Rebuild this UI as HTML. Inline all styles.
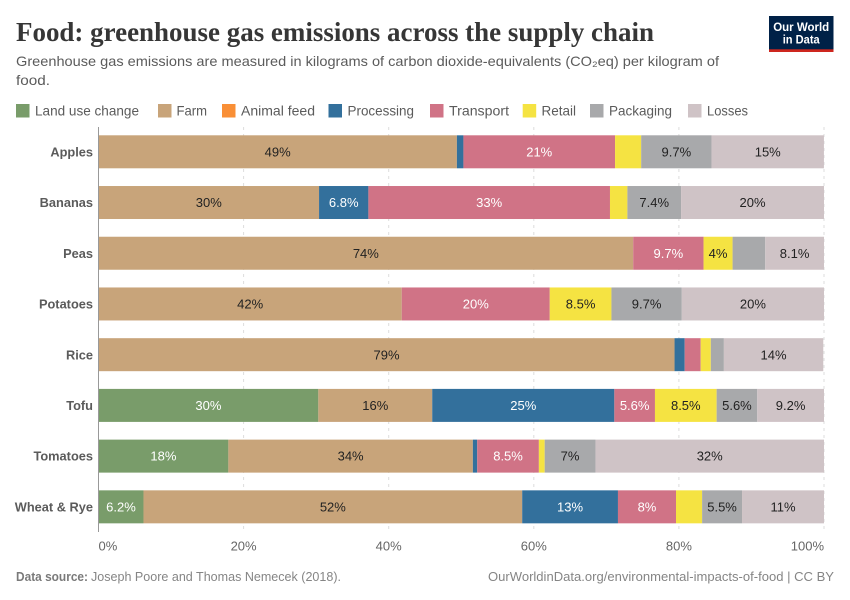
<!DOCTYPE html>
<html lang="en">
<head>
<meta charset="utf-8">
<title>Food: greenhouse gas emissions across the supply chain</title>
<style>
html,body{margin:0;padding:0;background:#fff;}
svg{display:block;font-family:"Liberation Sans",Arial,sans-serif;}
</style>
</head>
<body>
<svg id="chart" xmlns="http://www.w3.org/2000/svg" width="850" height="600" viewBox="0 0 850 600">
  <rect width="850" height="600" fill="#fff"/>
  <text x="16" y="41" font-family="'Liberation Serif',serif" font-weight="700" font-size="27" fill="#363636" textLength="638" lengthAdjust="spacingAndGlyphs">Food: greenhouse gas emissions across the supply chain</text>
  <text x="16" y="66" font-size="14" fill="#5b5b5b" textLength="703" lengthAdjust="spacingAndGlyphs">Greenhouse gas emissions are measured in kilograms of carbon dioxide-equivalents (CO₂eq) per kilogram of</text>
  <text x="16" y="85" font-size="14" fill="#5b5b5b" textLength="34" lengthAdjust="spacingAndGlyphs">food.</text>
  <g>
    <rect x="769" y="16" width="64.500" height="36" fill="#002147"/>
    <rect x="769" y="49.300" width="64.500" height="2.700" fill="#ce261e"/>
    <text x="801.200" y="31" text-anchor="middle" font-size="12" font-weight="700" fill="#fff" textLength="56" lengthAdjust="spacingAndGlyphs">Our World</text>
    <text x="801.200" y="43.500" text-anchor="middle" font-size="12" font-weight="700" fill="#fff" textLength="37" lengthAdjust="spacingAndGlyphs">in Data</text>
  </g>
  <g id="legend"></g>
  <g id="grid"></g>
  <g id="bars"></g>
  <g id="yaxis"></g>
  <g id="xaxis"></g>
  <text x="16" y="581" font-size="13" font-weight="700" fill="#7a7a7a" textLength="72" lengthAdjust="spacingAndGlyphs">Data source:</text>
  <text x="91" y="581" font-size="13" fill="#858585" textLength="250" lengthAdjust="spacingAndGlyphs">Joseph Poore and Thomas Nemecek (2018).</text>
  <text x="834" y="581" text-anchor="end" font-size="13" fill="#858585" textLength="346" lengthAdjust="spacingAndGlyphs">OurWorldinData.org/environmental-impacts-of-food | CC BY</text>
</svg>
<script>
const categories = ["Apples", "Bananas", "Peas", "Potatoes", "Rice", "Tofu", "Tomatoes", "Wheat & Rye"];
const seriesNames = ["Land use change", "Farm", "Animal feed", "Processing", "Transport", "Retail", "Packaging", "Losses"];
const landUseChange = [0, 0, 0, 0, 0, 30.3, 17.9, 6.2];
const farm = [49.4, 30.4, 73.7, 41.8, 79.4, 15.7, 33.7, 52.2];
const animalFeed = [0, 0, 0, 0, 0, 0, 0, 0];
const processing = [0.9, 6.8, 0, 0, 1.4, 25.1, 0.6, 13.2];
const transport = [20.9, 33.3, 9.7, 20.4, 2.2, 5.6, 8.5, 8];
const retail = [3.6, 2.4, 4, 8.5, 1.4, 8.5, 0.8, 3.6];
const packaging = [9.7, 7.4, 4.5, 9.7, 1.8, 5.6, 7, 5.5];
const losses = [15.49, 19.7, 8.1, 19.6, 13.7, 9.2, 31.5, 11.3];
const xTicks = [0, 20, 40, 60, 80, 100];

const seriesValues = [landUseChange, farm, animalFeed, processing, transport, retail, packaging, losses];
const seriesColors = ["#799c6a", "#c8a47a", "#f98f36", "#33709c", "#d07386", "#f5e342", "#a8a9ab", "#cfc3c6"];
const labelColors = ["#fff", "#222", "#222", "#fff", "#fff", "#222", "#222", "#222"];
const legendLayout = [[16, 35, 104], [158, 176.5, 30.5], [222, 241, 74], [328.5, 347.5, 66.5], [430, 449, 60], [522.7, 541.5, 34.5], [590, 609, 63], [688, 707, 41]];

const NS = "http://www.w3.org/2000/svg";
const plotLeft = 98.5, plotRight = 824, rowStart = 135.3, rowStep = 50.72, barHeight = 33;
const xScale = v => plotLeft + (v / 100) * (plotRight - plotLeft);
const yScale = i => rowStart + i * rowStep;
const slug = s => s.toLowerCase().replace(/[^a-z0-9]+/g, "-");
const fmt = v => (v >= 10 ? String(Math.round(v)) : String(Math.round(v * 10) / 10)) + "%";
function make(tag, attrs, parent, text) {
  const el = document.createElementNS(NS, tag);
  for (const k in attrs) el.setAttribute(k, attrs[k]);
  if (text !== undefined) el.textContent = text;
  parent.appendChild(el);
  return el;
}

const legendG = document.getElementById("legend");
seriesNames.forEach((name, s) => {
  const item = make("g", {}, legendG);
  
  
  const swatch = make("rect", { x: legendLayout[s][0], y: 104, width: 13.500, height: 13.500, fill: seriesColors[s] }, item);
  
  
  const label = make("text", { x: legendLayout[s][1], y: 115.500, "font-size": 14, fill: "#5b5b5b", textLength: legendLayout[s][2], lengthAdjust: "spacingAndGlyphs" }, item, name);
  
  
});

const gridG = document.getElementById("grid");
xTicks.forEach(t => {
  if (t === 0) return;
  const line = make("line", { x1: xScale(t), x2: xScale(t), y1: 127, y2: 532, stroke: "#dddddd", "stroke-dasharray": "3 4" }, gridG);
  
  
});

const barsG = document.getElementById("bars");
const pending = [];
categories.forEach((cat, i) => {
  const row = make("g", {}, barsG);
  
  
  let cum = 0;
  seriesValues.forEach((vals, s) => {
    const v = vals[i];
    if (!v) return;
    const x0 = xScale(cum), x1 = xScale(cum + v);
    cum += v;
    const seg = make("rect", { x: x0, y: yScale(i), width: x1 - x0, height: barHeight, fill: seriesColors[s] }, row);
    
    
    const lab = make("text", { x: (x0 + x1) / 2, y: yScale(i) + barHeight / 2 + 4.6, "text-anchor": "middle", "font-size": 13, fill: labelColors[s] }, row, fmt(v));
    
    
    pending.push([lab, x1 - x0]);
  });
});
pending.forEach(([lab, w]) => {
  if (lab.getComputedTextLength() + 4 > w) lab.remove();
});

const yG = document.getElementById("yaxis");
const yLine = make("line", { x1: plotLeft, x2: plotLeft, y1: 127, y2: 532, stroke: "#999999", "stroke-width": 1 }, yG);


categories.forEach((cat, i) => {
  const t = make("text", { x: 93, y: yScale(i) + barHeight / 2 + 4.6, "text-anchor": "end", "font-size": 12.8, "font-weight": 700, fill: "#5b5b5b" }, yG, cat);
  
  
});

const xG = document.getElementById("xaxis");
xTicks.forEach((t, i) => {
  const anchor = i === 0 ? "start" : (i === xTicks.length - 1 ? "end" : "middle");
  const lab = make("text", { x: xScale(t), y: 550.5, "text-anchor": anchor, "font-size": 13, fill: "#666666" }, xG, t + "%");
  
  
});
</script>
</body>
</html>
